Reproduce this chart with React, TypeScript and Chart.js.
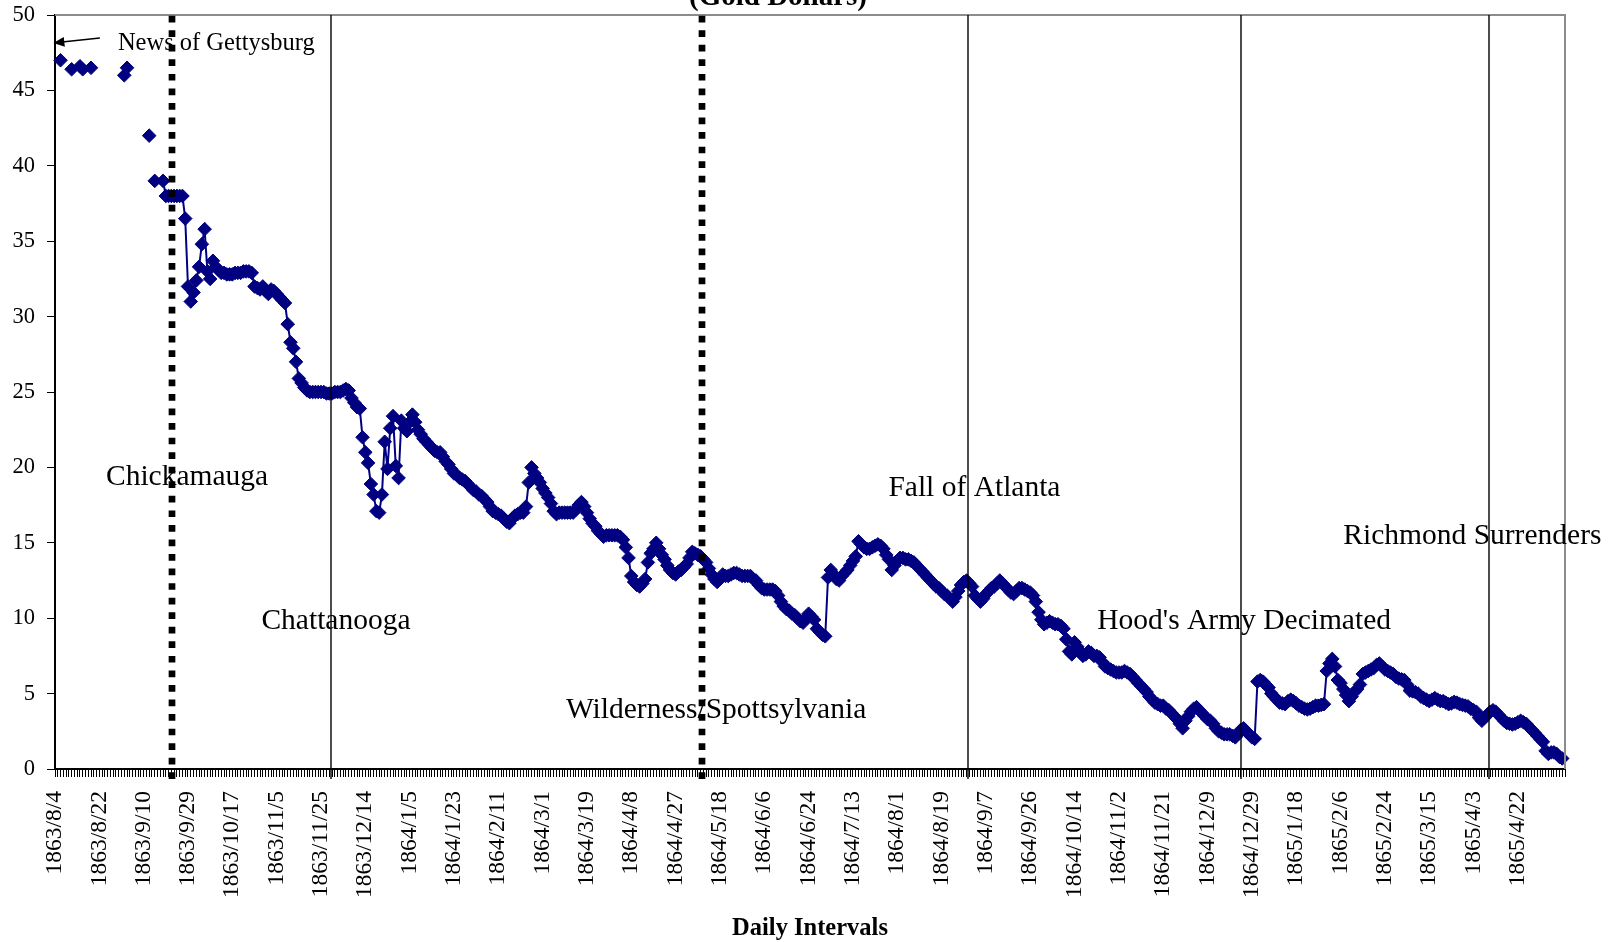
import React, { useEffect, useRef } from 'react';
import { Chart, registerables } from 'chart.js';

Chart.register(...registerables);

const SERIF = "'Liberation Serif', 'Times New Roman', serif";

// Tick labels: one every 16 trading days
const tickLabels = [
  '1863/8/4', '1863/8/22', '1863/9/10', '1863/9/29', '1863/10/17', '1863/11/5', '1863/11/25', '1863/12/14',
  '1864/1/5', '1864/1/23', '1864/2/11', '1864/3/1', '1864/3/19', '1864/4/8', '1864/4/27', '1864/5/18',
  '1864/6/6', '1864/6/24', '1864/7/13', '1864/8/1', '1864/8/19', '1864/9/7', '1864/9/26', '1864/10/14',
  '1864/11/2', '1864/11/21', '1864/12/9', '1864/12/29', '1865/1/18', '1865/2/6', '1865/2/24', '1865/3/15',
  '1865/4/3', '1865/4/22',
];
const labelStep = 16;

// Value of the Confederate dollar in gold dollars (cents), one entry per trading day
const price1863 = [
  // 1863/8/4
  null, null, 47.0, null, null, null, 46.4, null, null, 46.6, 46.4, null, null, 46.5, null, null,
  // 1863/8/22
  null, null, null, null, null, null, null, null, null, 46.0, 46.5, null, null, null, null, null,
  // 1863/9/10
  null, null, 42.0, null, 39.0, null, null, 39.0, 38.0, 38.0, 38.0, 38.0, 38.0, 38.0, 38.0, 36.5,
  // 1863/9/29
  32.0, 31.0, 31.6, 32.4, 33.3, 34.8, 35.8, 33.0, 32.5, 33.7, 33.3, 33.1, 32.9, 32.9, 32.8, 32.8,
  // 1863/10/17
  32.8, 32.9, 32.9, 32.9, 33.0, 33.0, 33.0, 32.9, 32.0, 31.9, 31.8, 32.0, 31.7, 31.5, 31.8, 31.7,
  // 1863/11/5
  31.5, 31.3, 31.1, 30.9, 29.5, 28.3, 27.9, 27.0, 25.9, 25.6, 25.3, 25.1, 25.0, 25.0, 25.0, 25.0,
  // 1863/11/25
  25.0, 25.0, 24.9, 24.9, 24.9, 25.0, 25.0, 25.0, 25.1, 25.2, 25.1, 24.6, 24.3, 24.0, 23.9, 22.0,
  // 1863/12/14
  21.0, 20.3, 18.9, 18.2, 17.1, 17.0, 18.2, 21.7, 19.9, 22.6, 23.4, 20.1, 19.3, 23.1, 22.6, 22.4,
];
const price1864a = [
  // 1864/1/5
  23.0, 23.5, 23.0, 22.5, 22.2, 21.9, 21.7, 21.5, 21.3, 21.1, 21.0, 21.0, 20.7, 20.4, 20.2, 19.9,
  // 1864/1/23
  19.6, 19.5, 19.3, 19.2, 19.1, 18.9, 18.7, 18.5, 18.4, 18.2, 18.1, 17.9, 17.7, 17.4, 17.1, 17.0,
  // 1864/2/11
  16.9, 16.8, 16.6, 16.4, 16.3, 16.6, 16.8, 16.9, 17.0, 17.0, 17.4, 19.0, 20.0, 19.6, 19.3, 19.0,
  // 1864/3/1
  18.6, 18.3, 18.0, 17.6, 17.1, 16.9, 17.0, 17.0, 17.0, 17.0, 17.0, 17.0, 17.2, 17.5, 17.7, 17.4,
  // 1864/3/19
  17.0, 16.6, 16.3, 16.1, 15.8, 15.6, 15.4, 15.5, 15.5, 15.5, 15.5, 15.5, 15.4, 15.2, 14.7, 14.0,
  // 1864/4/8
  12.8, 12.4, 12.2, 12.1, 12.3, 12.6, 13.7, 14.3, 14.6, 15.0, 14.6, 14.2, 13.9, 13.5, 13.2, 13.0,
  // 1864/4/27
  12.9, 13.1, 13.2, 13.4, 13.6, 14.0, 14.4, 14.3, 14.2, 14.1, 13.9, 13.7, 13.3, 12.9, 12.6, 12.4,
  // 1864/5/18
  12.6, 12.9, 12.8, 12.8, 12.9, 13.0, 13.0, 12.9, 12.8, 12.8, 12.8, 12.8, 12.6, 12.5, 12.2, 12.0,
  // 1864/6/6
  11.9, 11.9, 11.9, 11.9, 11.8, 11.5, 11.1, 10.8, 10.6, 10.5, 10.3, 10.2, 10.0, 9.8, 9.7, 10.0,
];
const price1864b = [
  // 1864/6/24
  10.3, 10.1, 9.9, 9.3, 9.1, 8.9, 8.8, 12.7, 13.2, 12.9, 12.6, 12.5, 12.8, 13.0, 13.2, 13.5,
  // 1864/7/13
  13.8, 14.1, 15.1, 14.9, 14.7, 14.6, 14.6, 14.7, 14.8, 14.9, 14.8, 14.6, 14.2, 13.9, 13.2, 13.5,
  // 1864/8/1
  13.8, 14.0, 14.0, 13.9, 13.9, 13.8, 13.7, 13.5, 13.3, 13.1, 12.9, 12.7, 12.5, 12.3, 12.1, 12.0,
  // 1864/8/19
  11.8, 11.6, 11.5, 11.3, 11.1, 11.4, 11.8, 12.2, 12.4, 12.5, 12.3, 12.1, 11.5, 11.3, 11.1, 11.3,
  // 1864/9/7
  11.6, 11.8, 12.0, 12.1, 12.3, 12.5, 12.3, 12.1, 11.9, 11.7, 11.6, 11.8, 12.0, 12.0, 11.9, 11.8,
  // 1864/9/26
  11.7, 11.5, 11.1, 10.4, 9.9, 9.6, 9.7, 9.8, 9.7, 9.6, 9.6, 9.5, 9.3, 8.6, 7.8, 7.6,
  // 1864/10/14
  8.4, 8.1, 7.8, 7.5, 7.6, 7.8, 7.7, 7.5, 7.5, 7.4, 7.1, 6.8, 6.7, 6.6, 6.5, 6.4,
  // 1864/11/2
  6.4, 6.4, 6.5, 6.4, 6.3, 6.1, 5.9, 5.7, 5.5, 5.3, 5.1, 4.8, 4.6, 4.4, 4.3, 4.2,
  // 1864/11/21
  4.2, 4.0, 3.9, 3.7, 3.5, 3.3, 3.0, 2.7, 3.2, 3.5, 3.8, 4.0, 4.1, 3.9, 3.7, 3.5,
  // 1864/12/9
  3.3, 3.2, 3.0, 2.7, 2.5, 2.4, 2.3, 2.3, 2.3, 2.2, 2.1, 2.3, 2.6, 2.7, 2.5, 2.3,
];
const price1865 = [
  // 1864/12/29
  2.1, 2.0, 5.8, 5.9, 5.8, 5.6, 5.4, 5.0, 4.8, 4.6, 4.4, 4.35, 4.3, 4.5, 4.6, 4.5,
  // 1865/1/18
  4.35, 4.2, 4.1, 4.0, 3.95, 4.0, 4.1, 4.2, 4.2, 4.25, 4.3, 6.5, 7.0, 7.3, 6.8, 5.9,
  // 1865/2/6
  5.7, 5.3, 4.9, 4.5, 4.8, 5.1, 5.3, 5.6, 6.3, 6.4, 6.5, 6.6, 6.7, 6.9, 7.0, 6.8,
  // 1865/2/24
  6.6, 6.5, 6.4, 6.3, 6.1, 6.0, 5.95, 5.9, 5.6, 5.2, 5.15, 5.1, 5.0, 4.8, 4.7, 4.6,
  // 1865/3/15
  4.5, 4.6, 4.7, 4.6, 4.5, 4.5, 4.4, 4.3, 4.35, 4.45, 4.4, 4.3, 4.25, 4.2, 4.15, 4.0,
  // 1865/4/3
  3.9, 3.8, 3.4, 3.2, 3.4, 3.6, 3.8, 3.9, 3.8, 3.6, 3.4, 3.2, 3.05, 3.0, 2.95, 3.0,
  // 1865/4/22
  3.1, 3.2, 3.1, 3.0, 2.8, 2.6, 2.4, 2.2, 2.0, 1.8, 1.2, 1.0, 1.1, 1.1, 1.0, 0.8, 0.7, null,
];

const prices = [...price1863, ...price1864a, ...price1864b, ...price1865];
const categories = prices.map((_, i) => (i % labelStep === 0 ? tickLabels[i / labelStep] ?? '' : ''));

// Event markers (position in trading days from 1863/8/4)
const eventLines = [
  { at: 42.3, dotted: true },
  { at: 99.6, dotted: false },
  { at: 233.6, dotted: true },
  { at: 329.4, dotted: false },
  { at: 428.2, dotted: false },
  { at: 517.5, dotted: false },
];

const eventNotes = [
  { text: 'Chickamauga', at: 18.4, value: 18.83 },
  { text: 'Chattanooga', at: 74.5, value: 9.28 },
  { text: 'Wilderness/Spottsylvania', at: 184.4, value: 3.35 },
  { text: 'Fall of Atlanta', at: 300.8, value: 18.1 },
  { text: "Hood's Army Decimated", at: 376.2, value: 9.28 },
  { text: 'Richmond Surrenders', at: 465, value: 14.95 },
];

const gettysburgNote = { text: 'News of Gettysburg', at: 22.7, value: 47.65 };
const gettysburgArrow = { fromAt: 16.2, fromValue: 48.47, toAt: -0.6, toValue: 48.14 };

const yTicks = [0, 5, 10, 15, 20, 25, 30, 35, 40, 45, 50];

const overlayPlugin = {
  id: 'overlay',
  afterDatasetsDraw(chart: any) {
    const { ctx, chartArea: a, scales } = chart;
    const xs = scales.x;
    const ys = scales.y;
    ctx.save();

    // gray frame on top and right
    ctx.strokeStyle = '#8c8c8c';
    ctx.lineWidth = 2;
    ctx.beginPath();
    ctx.moveTo(a.left, a.top);
    ctx.lineTo(a.right, a.top);
    ctx.lineTo(a.right, a.bottom);
    ctx.stroke();

    // event lines
    for (const ev of eventLines) {
      const px = Math.round(xs.getPixelForValue(ev.at));
      ctx.beginPath();
      ctx.strokeStyle = '#000';
      if (ev.dotted) {
        ctx.lineWidth = 6.7;
        ctx.setLineDash([6.7, 7.85]);
      } else {
        ctx.lineWidth = 1.4;
        ctx.setLineDash([]);
      }
      ctx.moveTo(px, a.bottom + 10);
      ctx.lineTo(px, a.top);
      ctx.stroke();
    }
    ctx.setLineDash([]);

    // event notes
    ctx.fillStyle = '#000';
    ctx.textAlign = 'left';
    ctx.textBaseline = 'alphabetic';
    ctx.font = `29.5px ${SERIF}`;
    for (const n of eventNotes) {
      ctx.fillText(n.text, xs.getPixelForValue(n.at), ys.getPixelForValue(n.value));
    }

    // Gettysburg note + arrow
    ctx.font = `24.5px ${SERIF}`;
    ctx.fillText(gettysburgNote.text, xs.getPixelForValue(gettysburgNote.at), ys.getPixelForValue(gettysburgNote.value));
    const x1 = xs.getPixelForValue(gettysburgArrow.fromAt);
    const y1 = ys.getPixelForValue(gettysburgArrow.fromValue);
    const x2 = xs.getPixelForValue(gettysburgArrow.toAt);
    const y2 = ys.getPixelForValue(gettysburgArrow.toValue);
    const ang = Math.atan2(y2 - y1, x2 - x1);
    const headLen = 11;
    const headHalf = 5;
    ctx.strokeStyle = '#000';
    ctx.lineWidth = 1.5;
    ctx.beginPath();
    ctx.moveTo(x1, y1);
    ctx.lineTo(x2 - Math.cos(ang) * headLen * 0.8, y2 - Math.sin(ang) * headLen * 0.8);
    ctx.stroke();
    ctx.beginPath();
    ctx.moveTo(x2, y2);
    ctx.lineTo(
      x2 - Math.cos(ang) * headLen + Math.sin(ang) * headHalf,
      y2 - Math.sin(ang) * headLen - Math.cos(ang) * headHalf
    );
    ctx.lineTo(
      x2 - Math.cos(ang) * headLen - Math.sin(ang) * headHalf,
      y2 - Math.sin(ang) * headLen + Math.cos(ang) * headHalf
    );
    ctx.closePath();
    ctx.fillStyle = '#000';
    ctx.fill();

    // titles
    ctx.textAlign = 'center';
    ctx.font = `bold 29px ${SERIF}`;
    ctx.textBaseline = 'alphabetic';
    ctx.fillText('(Gold Dollars)', 778, 5);
    ctx.font = `bold 24.5px ${SERIF}`;
    ctx.textBaseline = 'middle';
    ctx.fillText('Daily Intervals', (a.left + a.right) / 2, 929);

    ctx.restore();
  },
};

export default function App() {
  const canvasRef = useRef<HTMLCanvasElement | null>(null);

  useEffect(() => {
    const canvas = canvasRef.current;
    if (!canvas) return;
    const chart = new Chart(canvas, {
      type: 'line',
      data: {
        labels: categories,
        datasets: [
          {
            data: prices,
            borderColor: '#000080',
            backgroundColor: '#000080',
            borderWidth: 2,
            pointStyle: 'rectRot',
            pointRadius: 6.8,
            pointBorderWidth: 1,
            pointBackgroundColor: '#000080',
            pointBorderColor: '#000080',
            tension: 0,
            spanGaps: false,
          },
        ],
      },
      options: {
        responsive: false,
        animation: false,
        devicePixelRatio: 1,
        events: [],
        layout: { padding: { left: 0, top: 15, right: 49, bottom: 0 } },
        plugins: { legend: { display: false }, tooltip: { enabled: false }, title: { display: false } },
        scales: {
          x: {
            type: 'category',
            offset: false,
            grid: { display: true, drawOnChartArea: false, drawTicks: true, tickLength: 8, color: '#000', lineWidth: 1 },
            border: { display: true, color: '#000', width: 2 },
            ticks: {
              autoSkip: false,
              maxRotation: 90,
              minRotation: 90,
              padding: 14,
              color: '#000',
              font: { family: SERIF, size: 23.5 },
            },
            afterFit: (s: any) => {
              s.height = 173;
              s.paddingLeft = 0;
              s.paddingRight = 0;
              s.paddingTop = 0;
              s.paddingBottom = 0;
            },
          },
          y: {
            type: 'linear',
            min: 0,
            max: 50,
            afterBuildTicks: (s: any) => {
              s.ticks = yTicks.map((v) => ({ value: v }));
            },
            grid: { display: true, drawOnChartArea: false, drawTicks: true, tickLength: 8, color: '#000', lineWidth: 1 },
            border: { display: true, color: '#000', width: 2 },
            ticks: {
              padding: 12,
              color: '#000',
              font: { family: SERIF, size: 22.5 },
            },
            afterFit: (s: any) => {
              s.width = 55;
              s.paddingLeft = 0;
              s.paddingRight = 0;
              s.paddingTop = 0;
              s.paddingBottom = 0;
            },
          },
        },
      },
      plugins: [overlayPlugin],
    });
    return () => chart.destroy();
  }, []);

  return (
    <div style={{ position: 'absolute', left: 0, top: 0, width: 1614, height: 942, background: '#fff' }}>
      <canvas ref={canvasRef} width={1614} height={942} style={{ display: 'block', width: 1614, height: 942 }} />
    </div>
  );
}
